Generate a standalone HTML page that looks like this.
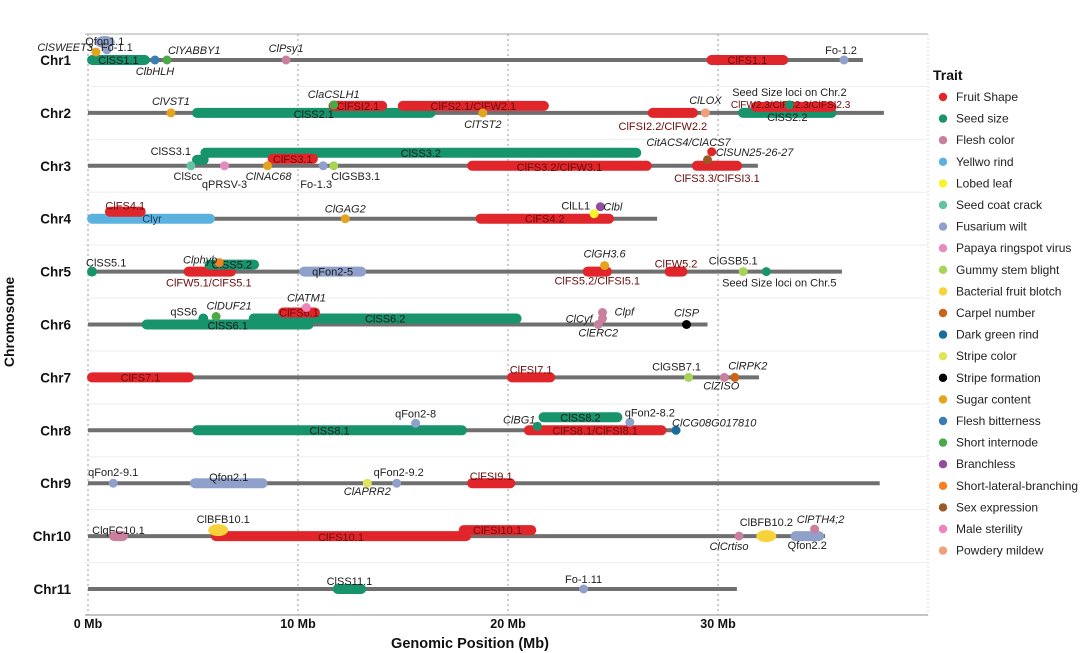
<!DOCTYPE html>
<html><head><meta charset="utf-8"><style>
body{margin:0;background:#fff;}
svg{display:block;font-family:"Liberation Sans",sans-serif;}
</style></head><body>
<svg id="chart" width="1080" height="653" viewBox="0 0 1080 653" xmlns="http://www.w3.org/2000/svg"></svg>
<script>
const chromNames=["Chr1","Chr2","Chr3","Chr4","Chr5","Chr6","Chr7","Chr8","Chr9","Chr10","Chr11"];
const chromLen=[36.9,37.9,31.9,27.1,35.9,29.5,31.95,28.2,37.7,35.1,30.9];
const xTicks=[0,10,20,30];
const xTickLabels=["0 Mb","10 Mb","20 Mb","30 Mb"];
const traitNames=["Fruit Shape","Seed size","Flesh color","Yellwo rind","Lobed leaf","Seed coat crack","Fusarium wilt","Papaya ringspot virus","Gummy stem blight","Bacterial fruit blotch","Carpel number","Dark green rind","Stripe color","Stripe formation","Sugar content","Flesh bitterness","Short internode","Branchless","Short-lateral-branching","Sex expression","Male sterility","Powdery mildew"];
const traitColors=["#e0262b","#17946c","#c9809e","#5cb2de","#f5f52a","#66c2a5","#8fa0cb","#e58bc0","#a7d356","#f7d23a","#cc6318","#176e9c","#dfe65a","#000000","#e6a31e","#3a7db6","#4ca94a","#944c9f","#f58220","#9b5a25","#f082bd","#f0a07a"];
// segments
const segChr=[1,1,2,2,2,2,2,2,3,3,3,3,3,4,4,4,5,5,5,5,5,5,6,6,6,6,7,7,8,8,8,9,9,10,10,10,10,11];
const segStart=[0,29.5,5.0,11.5,14.8,26.7,31.0,31.6,5.0,5.4,8.6,18.1,28.8,0,0.85,18.5,0,4.6,5.6,10.1,23.6,27.5,2.6,7.7,9.1,5.3,0,20.0,5.0,21.5,20.8,4.9,18.1,1.05,5.9,17.7,33.5,11.7];
const segEnd=[2.9,33.3,16.5,14.2,21.9,29.0,35.6,35.6,5.7,26.3,10.9,26.8,31.1,6.0,2.7,25.0,0.25,7.0,8.1,13.2,24.9,28.5,10.7,20.6,11.0,5.6,5.0,22.2,18.0,25.4,27.5,8.5,20.3,1.85,18.2,21.3,35.0,13.2];
const segTrait=[1,0,1,0,0,0,1,0,1,1,0,0,0,3,0,0,1,0,1,6,0,0,1,1,0,1,0,0,1,1,0,6,0,2,0,0,6,1];
const segLabel=["ClSS1.1","ClFS1.1","ClSS2.1","ClFSI2.1","ClFS2.1/ClFW2.1","ClFSI2.2/ClFW2.2","ClSS2.2","ClFW2.3/ClFS2.3/ClFSI2.3","ClSS3.1","ClSS3.2","ClFS3.1","ClFS3.2/ClFW3.1","ClFS3.3/ClFSI3.1","Clyr","ClFS4.1","ClFS4.2","ClSS5.1","ClFW5.1/ClFS5.1","ClSS5.2","qFon2-5","ClFS5.2/ClFSI5.1","ClFW5.2","ClSS6.1","ClSS6.2","ClFS6.1","qSS6","ClFS7.1","ClFSI7.1","ClSS8.1","ClSS8.2","ClFS8.1/ClFSI8.1","Qfon2.1","ClFSI9.1","ClqFC10.1","ClFS10.1","ClFSI10.1","Qfon2.2","ClSS11.1"];
// layout (pixels, not data)
const segLift=[0,0,0,-7,-7,0,0,-6,-6,-13,-7,0,0,0,-7,0,0,0,-7,0,0,0,0,-6,-12,-6,0,0,0,-13,0,0,0,0,0,-6,0,0];
const segLdx=[0,0,0,0,0,-10,0,-3,-31,0,0,0,0,1,0,0,-2,-1,0,0,0,0,0,0,0,-6,0,0,0,0,0,0,0,0,0,0,0,0];
const segLdy=[4,4,5,4,4,17,8,1,-5,4,4,5,16,4,-2,4,-5,15,4,4,13,-4,5,4,4,-3,4,-4,4,4,4,-2,-3,-2,5,4,13,-4];
const segAnchor=["middle","middle","middle","middle","middle","middle","middle","middle","end","middle","middle","middle","middle","middle","middle","middle","start","middle","middle","middle","middle","middle","middle","middle","middle","end","middle","middle","middle","middle","middle","middle","middle","middle","middle","middle","middle","middle"];
// points
const ptChr=[1,1,1,1,1,1,1,2,2,2,2,2,3,3,3,3,3,3,3,4,4,4,5,5,5,5,6,6,6,6,6,6,7,7,7,8,8,8,8,9,9,9,10,10,10,10,11];
const ptPos=[0.8,0.38,0.9,3.19,3.76,9.43,36.0,3.95,11.7,18.8,29.4,33.4,4.9,6.5,8.55,11.2,11.7,29.5,29.7,12.25,24.1,24.4,6.25,24.6,31.2,32.3,6.1,10.4,24.5,24.5,24.3,28.5,28.6,30.3,30.8,15.6,21.4,25.8,28.0,1.2,13.3,14.7,6.2,31.0,32.3,34.6,23.6];
const ptTrait=[6,14,6,15,16,2,6,14,16,14,21,1,5,7,14,6,8,19,0,14,4,17,18,14,8,1,16,20,2,2,2,13,8,2,10,6,1,6,11,6,12,6,9,2,9,2,6];
const ptLabel=["Qfon1.1","ClSWEET3","Fo-1.1","ClbHLH","ClYABBY1","ClPsy1","Fo-1.2","ClVST1","ClaCSLH1","ClTST2","ClLOX","Seed Size loci on Chr.2","ClScc","qPRSV-3","ClNAC68","Fo-1.3","ClGSB3.1","CitACS4/ClACS7","ClSUN25-26-27","ClGAG2","ClLL1","Clbl","Clphyb","ClGH3.6","ClGSB5.1","Seed Size loci on Chr.5","ClDUF21","ClATM1","Clpf","ClCyf","ClERC2","ClSP","ClGSB7.1","ClZISO","ClRPK2","qFon2-8","ClBG1","qFon2-8.2","ClCG08G017810","qFon2-9.1","ClAPRR2","qFon2-9.2","ClBFB10.1","ClCrtiso","ClBFB10.2","ClPTH4;2","Fo-1.11"];
const ptItalic=[0,1,0,1,1,1,0,1,1,1,1,0,0,0,1,0,0,1,1,1,0,1,1,1,0,0,1,1,1,1,1,1,0,1,1,0,1,0,1,0,1,0,0,1,0,1,0];
const ptLift=[-18,-8,-10,0,0,0,0,0,-8,0,0,-8,0,0,0,0,0,-6,-14,0,-5,-12,-9,-6,0,0,-8,-17,-12,-6,0,0,0,0,0,-7,-4,-8,0,0,0,0,-6,0,0,-7,0];
const ptLdx=[0,-3,-6,0,1,0,-3,0,0,0,0,0,-3,0,1,-7,22,-19,4,0,-4,3,-2,0,-10,13,13,0,12,-10,0,0,-12,-3,13,0,-2,20,-4,0,0,2,5,-10,0,6,0];
const ptLdy=[3,-1,1,15,-6,-8,-6,-8,-7,15,-9,-9,14,22,14,22,14,-14,4,-6,-4,4,1,-8,-7,15,-7,-6,3,4,12,-8,-7,12,-8,-6,-3,-6,-4,-7,12,-7,-7,14,-10,-6,-6];
const ptAnchor=["middle","end","start","middle","start","middle","middle","middle","middle","middle","middle","middle","middle","middle","middle","middle","middle","middle","start","middle","end","start","end","middle","middle","middle","middle","middle","start","end","middle","middle","middle","middle","middle","middle","end","middle","start","middle","middle","middle","middle","middle","middle","middle","middle"];
const ptBig=[1,0,0,0,0,0,0,0,0,0,0,0,0,0,0,0,0,0,0,0,0,0,0,0,0,0,0,0,0,0,0,0,0,0,0,0,0,0,0,0,0,0,1,0,1,0,0];

const NS="http://www.w3.org/2000/svg";
const svg=document.getElementById('chart');
const X0=88,PX=21,Y0=60,DY=52.9;
const xScale=v=>X0+v*PX;
const yScale=c=>Y0+(c-1)*DY;
function mk(tag,attrs,parent){const e=document.createElementNS(NS,tag);for(const k in attrs)e.setAttribute(k,attrs[k]);(parent||svg).appendChild(e);return e;}

const grid=mk('g',{});


mk('line',{x1:85,y1:34,x2:928,y2:34,stroke:'#bbb','stroke-width':1.2},grid);
mk('line',{x1:928,y1:34,x2:928,y2:615,stroke:'#ddd','stroke-width':1,'stroke-dasharray':'2,2'},grid);
for(let i=0;i<chromNames.length-1;i++){
  const y=yScale(i+1)+DY/2;
  mk('line',{x1:85,y1:y,x2:928,y2:y,stroke:'#eee','stroke-width':1},grid);
}
xTicks.forEach((t,i)=>{
  const gl=mk('line',{x1:xScale(t),y1:34,x2:xScale(t),y2:615,stroke:'#999','stroke-width':1,'stroke-dasharray':'2,3'},grid);
  
  
  const tl=mk('text',{x:xScale(t),y:628,'text-anchor':'middle','font-size':12.5,'font-weight':'bold',fill:'#111'});
  tl.textContent=xTickLabels[i];
  
  
});
const xa=mk('line',{x1:85,y1:615,x2:928,y2:615,stroke:'#888','stroke-width':1});



chromNames.forEach((n,i)=>{
  const y=yScale(i+1);
  const l=mk('line',{x1:xScale(0),y1:y,x2:xScale(chromLen[i]),y2:y,stroke:'#6f6f6f','stroke-width':4});
  
  
  const t=mk('text',{x:71,y:y+5,'text-anchor':'end','font-size':13.5,'font-weight':'bold',fill:'#111'});
  t.textContent=n;
  
  
});

segChr.forEach((c,i)=>{
  const y=yScale(c)+segLift[i];
  const col=traitColors[segTrait[i]];
  const g=mk('g',{});
  
  
  const x1=xScale(segStart[i]),x2=xScale(segEnd[i]);
  mk('line',{x1:x1+4,y1:y,x2:Math.max(x1+4,x2-4),y2:y,stroke:col,'stroke-width':10,'stroke-linecap':'round'},g);
  let tx=(x1+x2)/2+segLdx[i];
  if(segAnchor[i]==='start')tx=x1+segLdx[i];
  if(segAnchor[i]==='end')tx=x1-2;
  const t=mk('text',{x:tx,y:y+segLdy[i],'text-anchor':segAnchor[i],'font-size':segLabel[i].length>20?10:11,fill:segTrait[i]===0?'#6a0c0c':'#1a1a1a'},g);
  if(segTrait[i]===3)t.setAttribute('fill','#1b3a5c');
  t.textContent=segLabel[i];
});

ptChr.forEach((c,i)=>{
  const y=yScale(c)+ptLift[i];
  const x=xScale(ptPos[i]);
  const g=mk('g',{});
  
  
  if(ptBig[i]) mk('ellipse',{cx:x,cy:y,rx:10,ry:6,fill:traitColors[ptTrait[i]]},g);
  else mk('circle',{cx:x,cy:y,r:4.5,fill:traitColors[ptTrait[i]]},g);
  const t=mk('text',{x:x+ptLdx[i],y:y+ptLdy[i],'text-anchor':ptAnchor[i],'font-size':11,fill:'#222'},g);
  if(ptItalic[i])t.setAttribute('font-style','italic');
  t.textContent=ptLabel[i];
});

const yt=mk('text',{x:0,y:0,transform:'translate(14,322) rotate(-90)','text-anchor':'middle','font-size':14,'font-weight':'bold',fill:'#111'});
yt.textContent='Chromosome';


const xt=mk('text',{x:470,y:648,'text-anchor':'middle','font-size':14.5,'font-weight':'bold',fill:'#111'});
xt.textContent='Genomic Position (Mb)';



const lg=mk('g',{});


const lt=mk('text',{x:933,y:80,'font-size':14,'font-weight':'bold',fill:'#111'},lg);
lt.textContent='Trait';
traitNames.forEach((n,i)=>{
  const y=97+i*21.6;
  const e=mk('g',{},lg);
  
  
  mk('circle',{cx:943,cy:y,r:4.2,fill:traitColors[i]},e);
  const t=mk('text',{x:956,y:y+4,'font-size':12,fill:'#222'},e);
  t.textContent=n;
});
</script>
</body></html>
